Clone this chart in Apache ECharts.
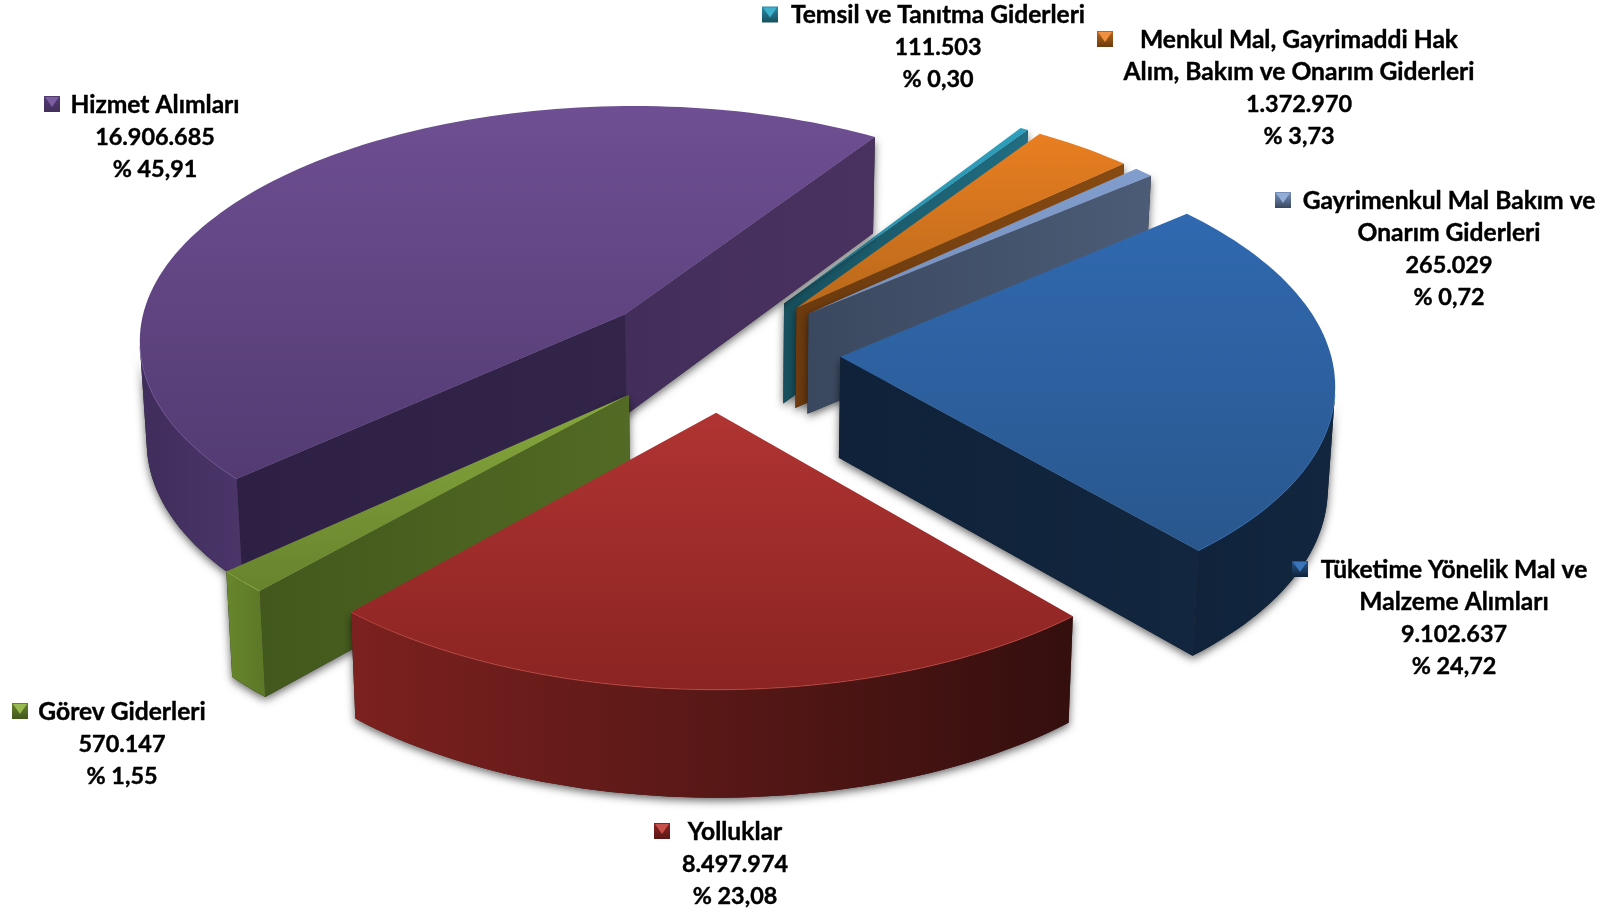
<!DOCTYPE html>
<html>
<head>
<meta charset="utf-8">
<title>Giderler</title>
<script src="https://cdn.jsdelivr.net/npm/echarts@6/dist/echarts.min.js"></script>
<style>
  html, body { margin: 0; padding: 0; background: #fff; }
  #chart { width: 1611px; height: 913px; }
</style>
</head>
<body>
<div id="chart"></div>
<script>
// saat yonunde, ilk dilimden itibaren
const names = [
  'Temsil ve Tanıtma Giderleri',
  'Menkul Mal, Gayrimaddi Hak\nAlım, Bakım ve Onarım Giderleri',
  'Gayrimenkul Mal Bakım ve\nOnarım Giderleri',
  'Tüketime Yönelik Mal ve\nMalzeme Alımları',
  'Yolluklar',
  'Görev Giderleri',
  'Hizmet Alımları'
];
const values = [111503, 1372970, 265029, 9102637, 8497974, 570147, 16906685];

// [top light, top dark, cut right, cut left, wall left, wall right, rim, start cut left, start cut right]
const palette = [
  ['#2f9fbc', '#2a8ca6', '#216d82', '#17505e', '#216d82', '#1b5a6b', '#3fb0cc'],
  ['#e97e21', '#b9691b', '#874a12', '#6b3a0e', '#874a12', '#754010', '#f09040'],
  ['#819dcd', '#7791bd', '#4c5c76', '#3a485f', '#4c5c76', '#44536b', '#93add8'],
  ['#3069b0', '#29578d', '#12263f', '#0f2239', '#10233b', '#12263f', '#3a74ba'],
  ['#b03432', '#8a2422', '#7a201e', '#5a1716', '#7c211f', '#340f0e', '#c8504a'],
  ['#86a83d', '#68832d', '#526a24', '#43581c', '#68862c', '#5c7727', '#98ba50'],
  ['#6e4f93', '#533b72', '#4a3260', '#432e5b', '#3f2d5c', '#4b3569', '#7a5ca0', '#2e2044', '#33244a']
];

// label anchor: centre x, first line centre y, key x
const labelLayout = [
  [938, 15.5, 762],
  [1299, 40, 1097],
  [1449, 201, 1275],
  [1454, 570, 1292],
  [735, 832, 654],
  [122, 712, 12],
  [155, 105, 44]
];

const total = values.reduce((a, b) => a + b, 0);
const startAngle = 33;
const cx = 717.5, cy = 352, R = 490, explode = 123;
const persp = 0.000204, tilt = 0.482, depth = 101;
const lineGap = 32.1;

function formatInt(v) {
  return String(v).replace(/\B(?=(\d{3})+$)/g, '.');
}
function formatPct(v) {
  return '% ' + (v / total * 100).toFixed(2).replace('.', ',');
}

// x right, y toward viewer, z 0 top / 1 bottom
function project(x, y, z) {
  const f = 1 / (1 - y * persp);
  const s = 1 - z * 0.012;
  return [
    cx + x * f * s,
    cy + y * tilt * f + z * depth * Math.sqrt(f)
  ];
}
function area(pts) {
  let a = 0;
  for (let i = 0; i < pts.length; i++) {
    const p = pts[i], q = pts[(i + 1) % pts.length];
    a += p[0] * q[1] - q[0] * p[1];
  }
  return a / 2;
}

const slices = [];
let acc = startAngle;
values.forEach(v => {
  const sweep = v / total * 360;
  slices.push({ from: acc, to: acc + sweep, mid: acc + sweep / 2 });
  acc += sweep;
});
// arkadan one dogru ciz
const order = slices.map((s, i) => [Math.cos(s.mid * Math.PI / 180), i])
  .sort((a, b) => b[0] - a[0]).map(o => o[1]);

const grad = (c1, c2, horizontal) => ({
  type: 'linear', x: 0, y: 0, x2: horizontal ? 1 : 0, y2: horizontal ? 0 : 1,
  colorStops: [{ offset: 0, color: c1 }, { offset: 1, color: c2 }]
});
const faceShadow = { shadowBlur: 8, shadowColor: 'rgba(0,0,0,0.6)', shadowOffsetX: 0, shadowOffsetY: 3 };

function renderItem(params, api) {
  const i = params.dataIndex;
  const sweep = api.value(0) / total * 360;
  const s = slices[i];
  const col = palette[i];
  const base = order.indexOf(i) * 10;
  const midRad = s.mid * Math.PI / 180;
  const ox = Math.sin(midRad) * explode;
  const oy = -Math.cos(midRad) * explode;
  const pt = (deg, r, z) => {
    const a = deg * Math.PI / 180;
    return project(ox + Math.sin(a) * r, oy - Math.cos(a) * r, z);
  };
  const steps = Math.max(2, Math.ceil(sweep / 1.5));
  const angs = [];
  for (let k = 0; k <= steps; k++) angs.push(s.from + sweep * k / steps);

  const children = [];
  const poly = (points, fill, z2, extra) => children.push({
    type: 'polygon', z2: base + z2, shape: { points },
    style: Object.assign({ fill }, extra || {})
  });
  // golge alt katmanda, yuz ustte: yuzler arasinda cizgi kalmasin
  const solid = (points, fill, z2) => {
    poly(points, '#222', 0, faceShadow);
    poly(points, fill, z2);
  };

  // kesit yuzleri
  [[s.from, false], [s.to, true]].forEach(c => {
    const q = [pt(0, 0, 0), pt(c[0], R, 0), pt(c[0], R, 1), pt(0, 0, 1)];
    const visible = c[1] ? area(q) > 0 : area(q) < 0;
    if (visible) {
      const fill = (!c[1] && col[7]) ? grad(col[7], col[8], true) : grad(col[3], col[2], true);
      solid(q, fill, 1);
    }
  });

  // dis duvar
  const run = [];
  for (let k = 0; k < steps; k++) {
    const q = [pt(angs[k], R, 0), pt(angs[k + 1], R, 0), pt(angs[k + 1], R, 1), pt(angs[k], R, 1)];
    if (area(q) < 0) run.push(k);
  }
  const rim = [];
  if (run.length) {
    const down = [];
    for (let k = run[0]; k <= run[run.length - 1] + 1; k++) {
      rim.push(pt(angs[k], R, 0));
      down.unshift(pt(angs[k], R, 1));
    }
    solid(rim.concat(down), grad(col[4], col[5], true), 2);
  }

  // ust yuz
  const top = [pt(0, 0, 0)].concat(angs.map(a => pt(a, R, 0)));
  poly(top, grad(col[0], col[1]), 3);
  if (rim.length) {
    children.push({
      type: 'polyline', z2: base + 4, shape: { points: rim },
      style: { stroke: col[6], lineWidth: 1, fill: null, opacity: 0.7 }
    });
  }

  // etiket ve anahtar
  const lay = labelLayout[i];
  const keyY = lay[1] - 1;
  const ks = 16;
  children.push({
    type: 'rect', z2: 200, shape: { x: lay[2], y: keyY - ks / 2, width: ks, height: ks },
    style: { fill: grad(col[1], col[3]) }
  });
  children.push({
    type: 'polygon', z2: 201,
    shape: { points: [[lay[2] + 1, keyY - ks / 2 + 1], [lay[2] + ks - 1, keyY - ks / 2 + 1], [lay[2] + ks / 2, keyY + 3]] },
    style: { fill: col[6] }
  });
  const nameLines = names[i].split('\n');
  const addLine = (text, row, size) => children.push({
    type: 'text', z2: 202,
    style: {
      x: lay[0], y: lay[1] + row * lineGap, text,
      textAlign: 'center', textVerticalAlign: 'middle',
      font: 'bold ' + size + 'px Lato', fill: '#000', stroke: '#000', lineWidth: 0.4
    }
  });
  nameLines.forEach((t, row) => addLine(t, row, 24.6));
  addLine(formatInt(api.value(0)), nameLines.length, 23.4);
  addLine(formatPct(api.value(0)), nameLines.length + 1, 23.4);
  return { type: 'group', children };
}

const chart = echarts.init(document.getElementById('chart'), null, { renderer: 'canvas' });
chart.setOption({
  animation: false,
  backgroundColor: '#fff',
  series: [{
    type: 'custom',
    coordinateSystem: 'none',
    silent: true,
    renderItem,
    data: values.map((v, i) => ({ name: names[i], value: [v] }))
  }]
});
</script>
</body>
</html>
